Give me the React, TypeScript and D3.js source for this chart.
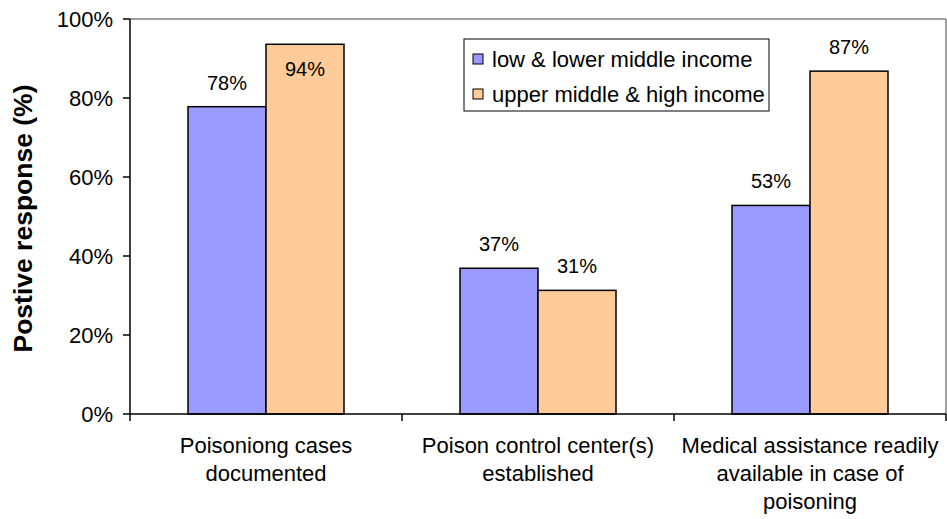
import React from "react";
import * as d3 from "d3";

const categories: string[][] = [
  ["Poisoniong cases", "documented"],
  ["Poison control center(s)", "established"],
  ["Medical assistance readily", "available in case of", "poisoning"],
];
const seriesNames = ["low & lower middle income", "upper middle & high income"];
const lowIncome = [77.8, 36.9, 52.8];
const highIncome = [93.6, 31.3, 86.8];
const colors = ["#9999FF", "#FFCC99"];
const yTicks = [0, 20, 40, 60, 80, 100];

const W = 947;
const H = 519;
const left = 130;
const right = 946;
const top = 19;
const bottom = 414;
const font = "'Liberation Sans', Arial, Helvetica, sans-serif";

export default function App() {
  const x0 = d3
    .scaleBand<number>()
    .domain(categories.map((_, i) => i))
    .range([left, right])
    .paddingInner(0)
    .paddingOuter(0);
  const groupPad = 58;
  const x1 = d3
    .scaleBand<number>()
    .domain([0, 1])
    .range([groupPad, x0.bandwidth() - groupPad]);
  const y = d3.scaleLinear().domain([0, 100]).range([bottom, top]);
  const series = [lowIncome, highIncome];

  return (
    <svg
      width={W}
      height={H}
      style={{ position: "absolute", left: 0, top: 0, display: "block", background: "#fff" }}
      fontFamily={font}
    >
      <rect x={0} y={0} width={W} height={H} fill="#fff" />
      {/* plot border */}
      <line x1={left} x2={right} y1={top} y2={top} stroke="#808080" strokeWidth={1.5} />
      <line x1={right} x2={right} y1={top} y2={bottom} stroke="#808080" strokeWidth={1.5} />

      {/* bars */}
      {series.map((vals, s) =>
        vals.map((v, i) => {
          const bx = (x0(i) as number) + (x1(s) as number);
          const bw = x1.bandwidth();
          const above = y(v) - 17;
          const ly = above - 15 < top ? y(v) + 32 : above;
          return (
            <g key={`b${s}-${i}`}>
              <rect
                x={bx}
                y={y(v)}
                width={bw}
                height={bottom - y(v)}
                fill={colors[s]}
                stroke="#000"
                strokeWidth={1.5}
              />
              <text
                x={bx + bw / 2}
                y={ly}
                textAnchor="middle"
                fontSize={20}
                fill="#000"
              >
                {`${Math.round(v)}%`}
              </text>
            </g>
          );
        })
      )}

      {/* y axis */}
      <line x1={left} x2={left} y1={top} y2={bottom} stroke="#000" strokeWidth={1.5} />
      {yTicks.map((t) => (
        <g key={`yt${t}`}>
          <line x1={left - 7} x2={left} y1={y(t)} y2={y(t)} stroke="#000" strokeWidth={1.5} />
          <text
            x={113}
            y={y(t)}
            dy="0.36em"
            textAnchor="end"
            fontSize={22}
            fill="#000"
          >
            {`${t}%`}
          </text>
        </g>
      ))}

      {/* x axis */}
      <line x1={left} x2={right} y1={bottom} y2={bottom} stroke="#000" strokeWidth={1.5} />
      {categories.map((_, i) => (
        <line
          key={`xt${i}`}
          x1={x0(i) as number}
          x2={x0(i) as number}
          y1={bottom}
          y2={bottom + 7}
          stroke="#000"
          strokeWidth={1.5}
        />
      ))}
      <line x1={right} x2={right} y1={bottom} y2={bottom + 7} stroke="#000" strokeWidth={1.5} />
      {categories.map((lines, i) => (
        <text
          key={`xl${i}`}
          x={(x0(i) as number) + x0.bandwidth() / 2}
          y={453}
          textAnchor="middle"
          fontSize={22}
          fill="#000"
        >
          {lines.map((l, k) => (
            <tspan key={k} x={(x0(i) as number) + x0.bandwidth() / 2} dy={k === 0 ? 0 : 28}>
              {l}
            </tspan>
          ))}
        </text>
      ))}

      {/* y title */}
      <text
        transform={`translate(32, ${(top + bottom) / 2 + 2}) rotate(-90)`}
        textAnchor="middle"
        fontSize={26.5}
        fontWeight="bold"
        fill="#000"
      >
        Postive response (%)
      </text>

      {/* legend */}
      <rect x={464} y={39} width={305} height={72} fill="#fff" stroke="#000" strokeWidth={1} />
      {seriesNames.map((name, s) => (
        <g key={`lg${s}`}>
          <rect
            x={473}
            y={59 + s * 35 - 5}
            width={10}
            height={10}
            fill={colors[s]}
            stroke="#000"
            strokeWidth={1}
          />
          <text x={492} y={59 + s * 35 + 8} fontSize={22} fill="#000">
            {name}
          </text>
        </g>
      ))}
    </svg>
  );
}
